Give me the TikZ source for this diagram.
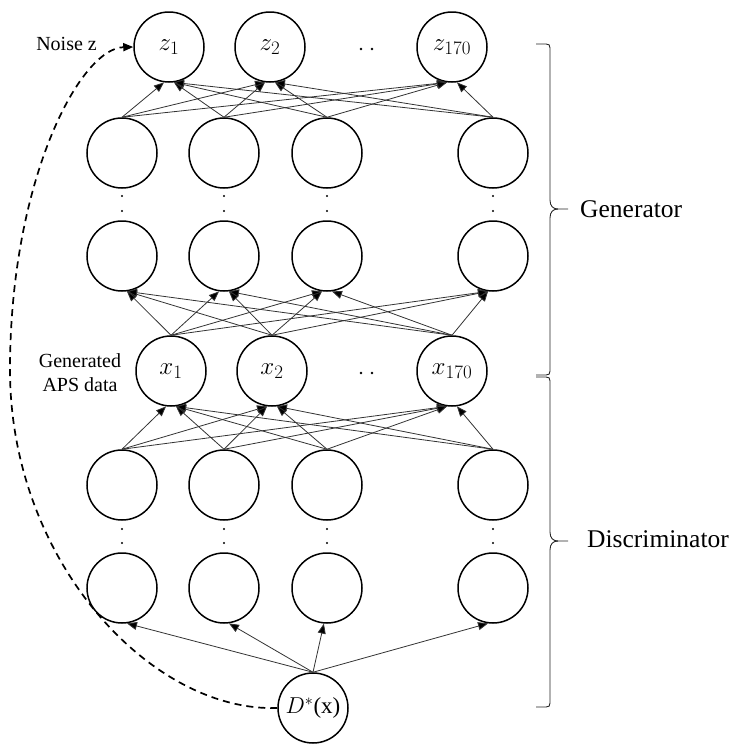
\documentclass[tikz,border=0pt]{standalone}
\usepackage{fix-cm}
\usepackage{fontspec}
\setmainfont{Liberation Serif}
\DeclareMathSizes{25}{25}{19}{15}
\usetikzlibrary{arrows.meta}
\begin{document}
\begin{tikzpicture}[x=1pt,y=-1pt,
  neuron/.style={circle, draw=black, line width=1.5pt, minimum size=70pt, inner sep=0pt,
                 font=\fontsize{25}{28}\selectfont},
  conn/.style={draw=black!80, line width=0.8pt,
               -{Triangle[length=10pt,width=8pt,fill=black]}},
  feedback/.style={draw=black, line width=1.7pt, dash pattern=on 7pt off 5pt,
               -{Triangle[length=10pt,width=8pt,fill=black]}},
  bracepath/.style={draw=black!85, line width=0.9pt},
  smalltext/.style={inner sep=0pt, font=\fontsize{20}{24}\selectfont},
  bigtext/.style={inner sep=0pt, font=\fontsize{25.5}{30}\selectfont},
  dotmark/.style={fill=black}
]
\useasboundingbox (0,0) rectangle (734,745);

% noise inputs
\node[neuron] (z1) at (169,47)   {$z_{1}$};
\node[neuron] (z2) at (270,47)   {$z_{2}$};
\node[neuron] (z3) at (452,47)   {$z_{170}$};

% generator and discriminator hidden layers
\foreach \i/\px in {1/122,2/224,3/327,4/493}{
  \node[neuron] (ga\i) at (\px,153) {};
  \node[neuron] (gb\i) at (\px,256) {};
  \node[neuron] (da\i) at (\px,485) {};
  \node[neuron] (db\i) at (\px,588) {};
  \fill[dotmark] (\px,196) circle (1.2pt);
  \fill[dotmark] (\px,211) circle (1.2pt);
  \fill[dotmark] (\px,529) circle (1.2pt);
  \fill[dotmark] (\px,543) circle (1.2pt);
}

% generated data layer
\node[neuron] (x1) at (171,371) {$x_{1}$};
\node[neuron] (x2) at (272,371) {$x_{2}$};
\node[neuron] (x3) at (452,371) {$x_{170}$};

% discriminator output
\node[neuron, font=\fontsize{23}{26}\selectfont] (dout) at (313,708) {$D^{*}$(x)};

% horizontal ellipses
\foreach \px in {361,372}{
  \fill[dotmark] (\px,49) circle (1.3pt);
  \fill[dotmark] (\px,373) circle (1.3pt);
}

% hidden layer -> noise layer
\foreach \s/\sx in {ga1/122,ga2/224,ga3/327,ga4/493}
  \foreach \t/\tx in {z1/169,z2/270,z3/452}{
    \pgfmathtruncatemacro\ang{\sx<\tx ? 262 : 278}
    \draw[conn] (\s.north) -- (\t.\ang);
  }

% generated data -> generator hidden layer
\foreach \s/\sx in {x1/171,x2/272,x3/452}
  \foreach \t/\tx in {gb1/122,gb2/224,gb3/327,gb4/493}{
    \pgfmathtruncatemacro\ang{\sx<\tx ? 262 : 278}
    \draw[conn] (\s.north) -- (\t.\ang);
  }

% discriminator hidden layer -> generated data
\foreach \s/\sx in {da1/122,da2/224,da3/327,da4/493}
  \foreach \t/\tx in {x1/171,x2/272,x3/452}{
    \pgfmathtruncatemacro\ang{\sx<\tx ? 262 : 278}
    \draw[conn] (\s.north) -- (\t.\ang);
  }

% output -> last discriminator layer
\draw[conn] (dout.north) -- (db1.278);
\draw[conn] (dout.north) -- (db2.278);
\draw[conn] (dout.north) -- (db3.265);
\draw[conn] (dout.north) -- (db4.262);

% feedback from discriminator output to the noise
\draw[feedback] (dout.west) .. controls (150,712) and (10,560) .. (10,370)
                .. controls (10,180) and (80,48) .. (z1.west);

% labels
\node[smalltext, anchor=base east] (noiselbl) at (97,50) {Noise z};
\node[smalltext, anchor=base] (genlblA) at (80,367) {Generated};
\node[smalltext, anchor=base] (genlblB) at (80,391) {APS data};

% braces
\draw[bracepath] (536,44) -- (546,44) .. controls (549,44) and (550,45) .. (550,48)
  -- (550,200) .. controls (550,206) and (553,209) .. (558,209) -- (568,209);
\draw[bracepath] (558,209) .. controls (553,209) and (550,212) .. (550,218)
  -- (550,371) .. controls (550,374) and (549,375) .. (546,375) -- (536,375);
\draw[bracepath] (536,377) -- (546,377) .. controls (549,377) and (550,378) .. (550,381)
  -- (550,532) .. controls (550,538) and (553,541) .. (558,541) -- (568,541);
\draw[bracepath] (558,541) .. controls (553,541) and (550,544) .. (550,550)
  -- (550,703) .. controls (550,706) and (549,707) .. (546,707) -- (536,707);

\node[bigtext, anchor=base west] (genname) at (580,217) {Generator};
\node[bigtext, anchor=base west] (discname) at (587,547) {Discriminator};
\end{tikzpicture}
\end{document}
